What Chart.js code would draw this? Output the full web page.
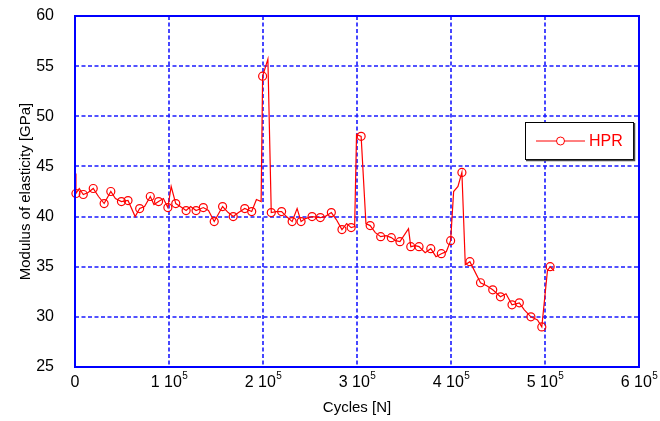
<!DOCTYPE html>
<html>
<head>
<meta charset="utf-8">
<script src="https://cdn.jsdelivr.net/npm/chart.js@4.4.0/dist/chart.umd.min.js"></script>
<style>
  html, body { margin: 0; padding: 0; background: #fff; }
  #wrap { width: 660px; height: 421px; }
</style>
</head>
<body>
<div id="wrap"><canvas id="myChart" width="660" height="421"></canvas></div>
<script>
const cycles = [
  0, 1000, 4500, 8800, 14000, 19400, 25000, 31000, 38100, 43000,
  49400, 56400, 64000, 68800, 74000, 80100, 84000, 88900, 94000, 98800,
  102300, 107200, 112000, 118200, 123000, 128800, 136500, 142000, 148100, 157000,
  163000, 168300, 174000, 180600, 188000, 193000, 198000, 199600, 205200, 208800,
  214000, 219800, 225000, 231000, 236300, 240500, 245000, 252200, 261000, 266000,
  272700, 278000, 284000, 289000, 293800, 297500, 299500, 304400, 309500, 314000,
  319500, 325200, 331000, 336500, 341000, 345700, 354800, 357200, 362000, 366000,
  372500, 378500, 384000, 389700, 395000, 399600, 402800, 407400, 411600, 415200,
  420100, 431400, 438000, 444400, 452600, 458500, 464900, 472700, 478000, 485000,
  492000, 496600, 502600, 505500, 509700
];
const modulus = [
  44.3, 42.3, 42.8, 42.2, 42.4, 42.8, 42.0, 41.3, 42.5, 41.8,
  41.5, 41.6, 40.0, 40.8, 41.0, 42.0, 41.2, 41.5, 41.8, 40.9,
  43.0, 41.3, 41.0, 40.6, 41.0, 40.6, 40.9, 40.6, 39.5, 41.0,
  40.4, 40.0, 40.4, 40.8, 40.5, 41.7, 41.5, 54.0, 55.7, 40.4,
  40.5, 40.5, 40.0, 39.5, 40.8, 39.5, 39.8, 40.0, 39.9, 40.0,
  40.4, 39.7, 38.7, 39.3, 38.9, 39.0, 48.2, 48.0, 39.3, 39.1,
  38.4, 38.0, 38.1, 37.9, 37.6, 37.5, 38.8, 37.0, 37.1, 37.0,
  36.4, 36.8, 36.0, 36.3, 36.5, 37.6, 42.5, 43.0, 44.4, 35.2,
  35.5, 33.4, 33.1, 32.7, 32.0, 32.3, 31.2, 31.4, 30.7, 30.0,
  29.7, 29.0, 34.6, 35.0, 34.6
];
// 1 = point carries a circle marker
const marked = [
  0, 1, 0, 1, 0, 1, 0, 1, 1, 0,
  1, 1, 0, 1, 0, 1, 0, 1, 0, 1,
  0, 1, 0, 1, 0, 1, 1, 0, 1, 1,
  0, 1, 0, 1, 1, 0, 0, 1, 0, 1,
  0, 1, 0, 1, 0, 1, 0, 1, 1, 0,
  1, 0, 1, 0, 1, 0, 0, 1, 0, 1,
  0, 1, 0, 1, 0, 1, 0, 1, 0, 1,
  0, 1, 0, 1, 0, 1, 0, 0, 1, 0,
  1, 1, 0, 1, 1, 0, 1, 1, 0, 1,
  0, 1, 0, 1, 0
];
const xTicks = [0, 100000, 200000, 300000, 400000, 500000, 600000];
const yTicks = [25, 30, 35, 40, 45, 50, 55, 60];
const seriesName = 'HPR';

const blue = '#0000ff';
const red = '#ff0000';
const font = 'Liberation Sans, Arial, sans-serif';

// dashed grid under the data
const gridPlugin = {
  id: 'dashGrid',
  beforeDatasetsDraw(chart) {
    const ctx = chart.ctx;
    const a = chart.chartArea;
    const xs = chart.scales.x, ys = chart.scales.y;
    ctx.save();
    ctx.strokeStyle = '#1a1aff';
    ctx.lineWidth = 1.6;
    ctx.setLineDash([4, 2.5]);
    xTicks.forEach(v => {
      const px = Math.round(xs.getPixelForValue(v));
      ctx.beginPath(); ctx.moveTo(px, a.top); ctx.lineTo(px, a.bottom); ctx.stroke();
    });
    yTicks.forEach(v => {
      const py = Math.round(ys.getPixelForValue(v));
      ctx.beginPath(); ctx.moveTo(a.left, py); ctx.lineTo(a.right, py); ctx.stroke();
    });
    ctx.restore();
  }
};

// solid frame, x labels with raised exponent, legend box
const framePlugin = {
  id: 'frame',
  afterDraw(chart) {
    const ctx = chart.ctx;
    const a = chart.chartArea;
    const xs = chart.scales.x;
    ctx.save();
    ctx.strokeStyle = blue;
    ctx.lineWidth = 2;
    ctx.setLineDash([]);
    ctx.strokeRect(a.left, a.top, a.right - a.left, a.bottom - a.top);

    // x tick labels like "1 10^5"
    ctx.fillStyle = '#000';
    ctx.textBaseline = 'alphabetic';
    ctx.textAlign = 'left';
    const baseY = a.bottom + 20;
    xTicks.forEach(v => {
      const px = xs.getPixelForValue(v);
      if (v === 0) {
        ctx.font = '16px ' + font;
        ctx.textAlign = 'center';
        ctx.fillText('0', px, baseY);
        ctx.textAlign = 'left';
        return;
      }
      const main = (v / 100000) + ' 10';
      ctx.font = '16px ' + font;
      const wMain = ctx.measureText(main).width;
      ctx.font = '10px ' + font;
      const wExp = ctx.measureText('5').width;
      const x0 = px - (wMain + wExp) / 2;
      ctx.font = '16px ' + font;
      ctx.fillText(main, x0, baseY);
      ctx.font = '10px ' + font;
      ctx.fillText('5', x0 + wMain + 0.5, baseY - 8);
    });

    // legend
    const bx = 525, by = 122, bw = 108, bh = 37;
    ctx.fillStyle = '#fff';
    ctx.fillRect(bx, by, bw, bh);
    ctx.strokeStyle = '#000';
    ctx.lineWidth = 1;
    ctx.strokeRect(bx + 0.5, by + 0.5, bw, bh);
    ctx.strokeStyle = '#444';
    ctx.lineWidth = 1.5;
    ctx.beginPath();
    ctx.moveTo(bx + bw + 1.5, by + 1);
    ctx.lineTo(bx + bw + 1.5, by + bh + 1.5);
    ctx.lineTo(bx + 1, by + bh + 1.5);
    ctx.stroke();

    const ly = by + bh / 2 + 0.5;
    ctx.strokeStyle = red;
    ctx.lineWidth = 1;
    ctx.beginPath();
    ctx.moveTo(536, ly);
    ctx.lineTo(585, ly);
    ctx.stroke();
    ctx.beginPath();
    ctx.arc(560.5, ly, 4, 0, Math.PI * 2);
    ctx.fillStyle = '#fff';
    ctx.fill();
    ctx.stroke();
    ctx.fillStyle = red;
    ctx.font = '16px ' + font;
    ctx.textBaseline = 'middle';
    ctx.textAlign = 'left';
    ctx.fillText(seriesName, 589, ly + 1);
    ctx.restore();
  }
};

const data = {
  datasets: [{
    label: seriesName,
    data: cycles.map((c, i) => ({ x: c, y: modulus[i] })),
    borderColor: red,
    borderWidth: 1.2,
    backgroundColor: 'rgba(0,0,0,0)',
    pointBorderColor: red,
    pointBorderWidth: 1.2,
    pointRadius: (c) => marked[c.dataIndex] ? 4 : 0,
    pointHoverRadius: 0,
    tension: 0,
    clip: false
  }]
};

const config = {
  type: 'line',
  data,
  plugins: [gridPlugin, framePlugin],
  options: {
    responsive: false,
    animation: false,
    events: [],
    layout: { padding: { top: 16, right: 21, left: 0, bottom: 0 } },
    plugins: { legend: { display: false }, tooltip: { enabled: false } },
    scales: {
      x: {
        type: 'linear',
        min: 0,
        max: 600000,
        afterBuildTicks: (s) => { s.ticks = xTicks.map(v => ({ value: v })); },
        afterFit: (s) => { s.height = 54; s.paddingLeft = 0; s.paddingRight = 0; },
        ticks: { display: false },
        grid: { display: false },
        border: { display: false },
        title: {
          display: true,
          text: 'Cycles [N]',
          color: '#000',
          font: { family: font, size: 15 },
          padding: { top: 0, bottom: 4 }
        }
      },
      y: {
        min: 25,
        max: 60,
        afterBuildTicks: (s) => { s.ticks = yTicks.map(v => ({ value: v })); },
        afterFit: (s) => { s.width = 75; s.paddingTop = 0; s.paddingBottom = 0; },
        ticks: {
          color: '#000',
          font: { family: font, size: 16 },
          padding: 13
        },
        grid: { display: false },
        border: { display: false },
        title: {
          display: true,
          text: 'Modulus of elasticity [GPa]',
          color: '#000',
          font: { family: font, size: 15 },
          padding: { top: 17, bottom: 0 }
        }
      }
    }
  }
};

const myChart = new Chart(document.getElementById('myChart'), config);
</script>
</body>
</html>
